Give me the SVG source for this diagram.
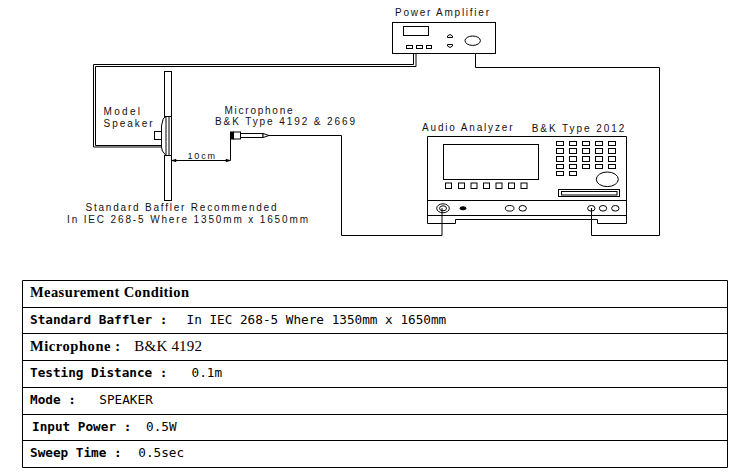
<svg xmlns="http://www.w3.org/2000/svg" width="750" height="472" viewBox="0 0 750 472">
<style>
.s{fill:none;stroke:#000;stroke-width:1}
.f{fill:#fff;stroke:#000;stroke-width:1}
.k{fill:#000;stroke:#000;stroke-width:1}
.l{font-family:"Liberation Sans",Arial,sans-serif;font-size:10px;fill:#111}
.h{font-family:"Liberation Serif","Times New Roman",serif;font-size:14.5px;font-weight:bold;fill:#000}
.mb{font-family:"DejaVu Sans Mono","Liberation Mono",monospace;font-size:12.7px;font-weight:bold;fill:#000}
.mr{font-family:"DejaVu Sans Mono","Liberation Mono",monospace;font-size:12.7px;fill:#000}
.sr{font-family:"Liberation Serif","Times New Roman",serif;font-size:15px;fill:#000}
</style>
<rect width="750" height="472" fill="#fff"/>
<g id="connectors">
<path class="s" d="M161 147H93.500V64.500H413.500V53.500"/>
<path class="s" d="M161 145.500H95.500V66.500H416V53.500"/>
<path class="s" d="M475.500 53.500V67.500H659.500V235.500H591.500V208"/>
<path class="s" d="M269 135.500H341.500V235.500H442V208"/>
<path class="s" d="M171.500 160.500H230.500V139"/>
<path class="k" d="M172 160.500l4-1v2zM230 160.500l-4-1v2z"/>
</g>
<g id="power-amplifier">
<rect class="s" x="392.500" y="22.500" width="103" height="31"/>
<rect class="s" x="403.500" y="26.500" width="25" height="9"/>
<rect class="s" x="406.500" y="45.500" width="6" height="3"/>
<rect class="s" x="416.500" y="45.500" width="6" height="3"/>
<rect class="s" x="426.500" y="45.500" width="5" height="3"/>
<path class="s" d="M447.500 37.500v-1.500q2.500-3 5 0v1.500z"/>
<path class="s" d="M447.500 44.500v1.500q2.500 3 5 0v-1.500z"/>
<ellipse class="s" cx="472.700" cy="40.700" rx="7.700" ry="4.700"/>
<text class="l" x="395" y="15.500" textLength="94">Power Amplifier</text>
</g>
<g id="baffler">
<rect class="f" x="164.500" y="71.500" width="7" height="45"/>
<rect class="f" x="164.500" y="155.500" width="7" height="45"/>
<text class="l" x="85.500" y="211" textLength="191">Standard Baffler Recommended</text>
<text class="l" x="67" y="223" textLength="241">In IEC 268-5 Where 1350mm x 1650mm</text>
</g>
<g id="model-speaker">
<rect class="s" x="154.500" y="131.500" width="7" height="8"/>
<path class="f" d="M171.500 116.500H166q-2.500 1-3 3L161.500 126V147Q162 152 164 153L166 155.500H171.500Z"/>
<path class="s" d="M166 116.500V155.500M169 116.500V155.500"/>
<text class="l" x="103.500" y="115" textLength="36.500">Model</text>
<text class="l" x="103.500" y="127" textLength="49">Speaker</text>
</g>
<g id="microphone">
<rect class="k" x="230.500" y="132" width="3" height="7"/>
<rect class="f" x="233.500" y="132" width="7" height="7"/>
<rect class="f" x="240.500" y="133.500" width="22.500" height="4"/>
<path class="f" d="M263 133.500L269 135.500L263 137.500Z"/>
<text class="l" x="224.500" y="114" textLength="68">Microphone</text>
<text class="l" x="215" y="125" textLength="140">B&amp;K Type 4192 &amp; 2669</text>
</g>
<g id="distance-label">
<text class="l" style="font-size:9px" x="187.500" y="158.500" textLength="27.500">10cm</text>
</g>
<g id="audio-analyzer">
<path class="s" d="M427.500 136.500H626.500V223.500H597.500V219.500H455.500V223.500H427.500Z"/>
<path class="s" d="M427.500 200.500H626.500M427.500 215.500H626.500"/>
<rect class="s" x="443.500" y="144.500" width="95" height="35"/>
<g>
<rect class="s" x="445.500" y="183" width="6" height="5.500"/><rect class="s" x="458.500" y="183" width="6" height="5.500"/><rect class="s" x="471" y="183" width="6" height="5.500"/><rect class="s" x="483.500" y="183" width="6" height="5.500"/><rect class="s" x="496" y="183" width="6" height="5.500"/><rect class="s" x="508.500" y="183" width="6" height="5.500"/><rect class="s" x="521" y="183" width="6" height="5.500"/>
</g>
<g>
<rect class="s" x="556.500" y="141.500" width="7" height="4"/><rect class="s" x="569.500" y="141.500" width="7" height="4"/><rect class="s" x="582.500" y="141.500" width="7" height="4"/><rect class="s" x="595.500" y="141.500" width="7" height="4"/><rect class="s" x="608.500" y="141.500" width="7" height="4"/>
<rect class="s" x="556.500" y="148.500" width="7" height="5"/><rect class="s" x="569.500" y="148.500" width="7" height="5"/><rect class="s" x="582.500" y="148.500" width="7" height="5"/><rect class="s" x="595.500" y="148.500" width="7" height="5"/><rect class="s" x="608.500" y="148.500" width="7" height="5"/>
<rect class="s" x="556.500" y="156.500" width="7" height="5"/><rect class="s" x="569.500" y="156.500" width="7" height="5"/><rect class="s" x="582.500" y="156.500" width="7" height="5"/><rect class="s" x="595.500" y="156.500" width="7" height="5"/><rect class="s" x="608.500" y="156.500" width="7" height="5"/>
<rect class="s" x="556.500" y="164.500" width="7" height="4"/><rect class="s" x="569.500" y="164.500" width="7" height="4"/><rect class="s" x="582.500" y="164.500" width="7" height="4"/><rect class="s" x="595.500" y="164.500" width="7" height="4"/><rect class="s" x="608.500" y="164.500" width="7" height="4"/>
<rect class="s" x="556.500" y="171.500" width="7" height="4"/><rect class="s" x="569.500" y="171.500" width="7" height="4"/>
</g>
<ellipse class="s" cx="607.300" cy="179.300" rx="11" ry="7.300"/>
<rect class="s" x="558.500" y="189.500" width="61" height="7"/>
<rect class="s" x="561.500" y="191.500" width="55.500" height="3.500"/>
<ellipse class="s" cx="443" cy="208.300" rx="6.300" ry="4.500"/>
<ellipse class="s" cx="443" cy="208.300" rx="3.500" ry="2.500"/>
<ellipse class="k" cx="463" cy="208.300" rx="3" ry="1.500"/>
<ellipse class="s" cx="509.700" cy="208.300" rx="4.300" ry="2.800"/>
<ellipse class="s" cx="522.700" cy="208.300" rx="3.700" ry="2.800"/>
<ellipse class="s" cx="591.300" cy="208.300" rx="3.700" ry="2.800"/>
<ellipse class="s" cx="603" cy="208.300" rx="3.700" ry="2.800"/>
<ellipse class="s" cx="615.300" cy="208.300" rx="3.700" ry="2.800"/>
<text class="l" x="422" y="130.700" textLength="90.500">Audio Analyzer</text>
<text class="l" x="531.700" y="131.700" textLength="92.500">B&amp;K Type 2012</text>
</g>
<g id="condition-table">
<path class="s" d="M22.500 280.500H727.500V467.500H22.500Z"/>
<path class="s" d="M22.500 307.500H727.500M22.500 333.500H727.500M22.500 360.500H727.500M22.500 387.500H727.500M22.500 414.500H727.500M22.500 440.500H727.500"/>
<text class="h" x="30" y="296.500" textLength="159">Measurement Condition</text>
<text class="mb" x="30" y="323.500">Standard Baffler :</text>
<text class="mr" x="186.500" y="323.500">In IEC 268-5 Where 1350mm x 1650mm</text>
<text class="h" x="30" y="350.500" textLength="90">Microphone :</text>
<text class="sr" x="134.300" y="350.500" textLength="67.700">B&amp;K 4192</text>
<text class="mb" x="30" y="377">Testing Distance :</text>
<text class="mr" x="191.500" y="377">0.1m</text>
<text class="mb" x="30" y="404">Mode :</text>
<text class="mr" x="99.300" y="404">SPEAKER</text>
<text class="mb" x="32" y="430.500">Input Power :</text>
<text class="mr" x="146" y="430.500">0.5W</text>
<text class="mb" x="30" y="457">Sweep Time :</text>
<text class="mr" x="138.300" y="457">0.5sec</text>
</g>
</svg>
